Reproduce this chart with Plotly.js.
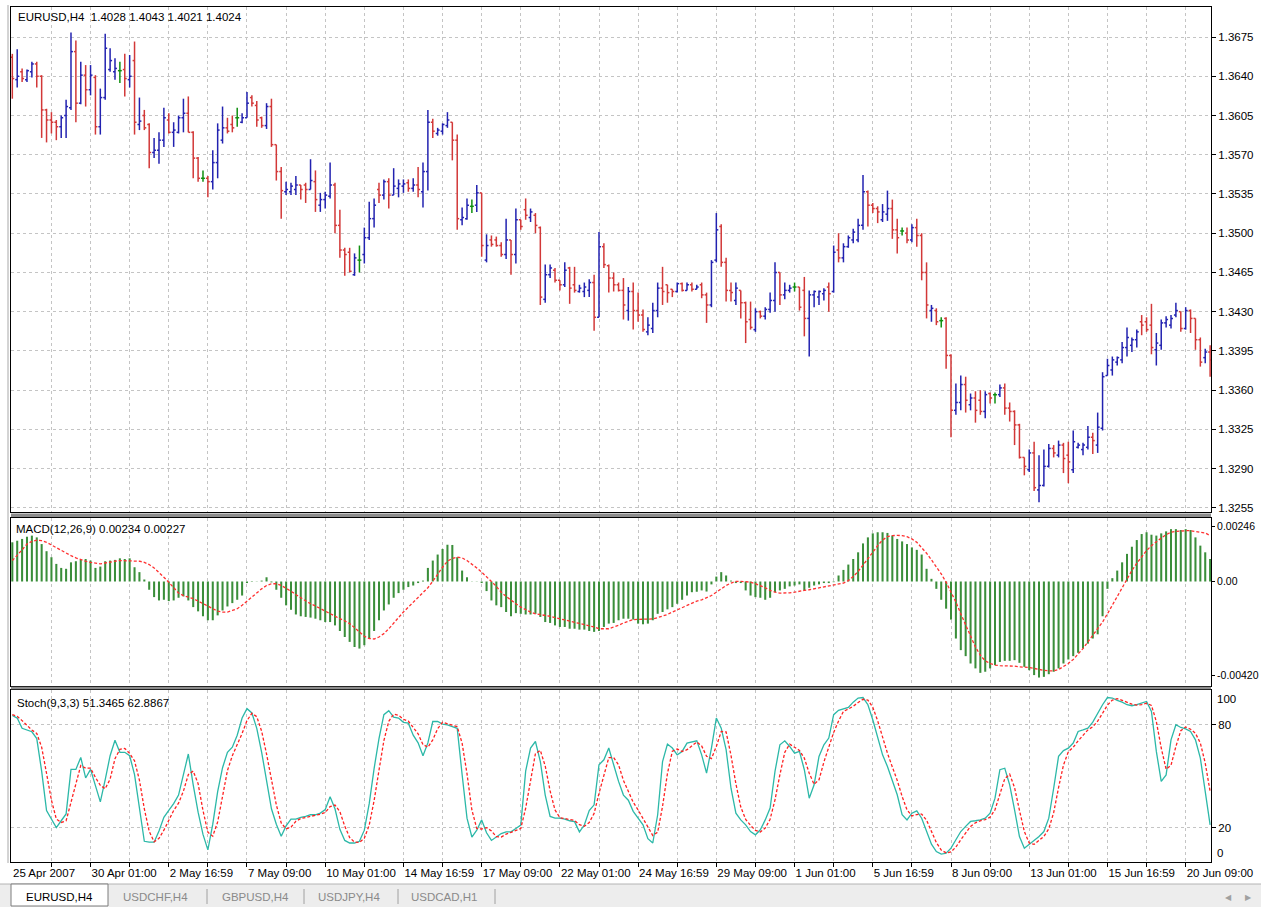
<!DOCTYPE html>
<html><head><meta charset="utf-8">
<script src="https://cdn.plot.ly/plotly-3.0.1.min.js"></script>
<style>html,body{margin:0;padding:0;background:#fff;overflow:hidden}#chart{width:1261px;height:907px}</style>
</head><body><div id="chart"></div>
<script>
// ---------------- DATA ----------------
const timeLabels = ["25 Apr 2007","30 Apr 01:00","2 May 16:59","7 May 09:00","10 May 01:00","14 May 16:59","17 May 09:00","22 May 01:00","24 May 16:59","29 May 09:00","1 Jun 01:00","5 Jun 16:59","8 Jun 09:00","13 Jun 01:00","15 Jun 16:59","20 Jun 09:00"];
const priceTicks = [1.3255,1.3290,1.3325,1.3360,1.3395,1.3430,1.3465,1.3500,1.3535,1.3570,1.3605,1.3640,1.3675];
const macdTicks = [0.00246,0,-0.0042];
const macdTickText = ["0.00246","0.00","-0.00420"];
const stochTicks = [80,20];

const openP = [
1.3657,1.3637,1.3644,1.3637,1.3644,1.3651,1.3640,1.3610,1.3601,1.3599,
1.3595,1.3605,1.3612,1.3662,1.3616,1.3641,1.3628,1.3639,1.3595,1.3621,
1.3646,1.3644,1.3645,1.3646,1.3637,1.3654,1.3597,1.3605,1.3597,1.3572,
1.3574,1.3583,1.3601,1.3590,1.3590,1.3603,1.3607,1.3590,1.3567,1.3549,
1.3549,1.3546,1.3563,1.3583,1.3594,1.3597,1.3603,1.3599,1.3603,1.3621,
1.3614,1.3603,1.3596,1.3613,1.3579,1.3555,1.3537,1.3537,1.3539,1.3543,
1.3543,1.3539,1.3546,1.3525,1.3530,1.3533,1.3543,1.3507,1.3485,1.3483,
1.3463,1.3476,1.3481,1.3496,1.3513,1.3539,1.3534,1.3546,1.3534,1.3540,
1.3542,1.3545,1.3540,1.3543,1.3537,1.3555,1.3599,1.3589,1.3591,1.3596,
1.3599,1.3583,1.3512,1.3513,1.3524,1.3525,1.3536,1.3476,1.3494,1.3494,
1.3489,1.3481,1.3494,1.3481,1.3512,1.3521,1.3514,1.3516,1.3505,1.3441,
1.3463,1.3467,1.3458,1.3454,1.3469,1.3454,1.3448,1.3448,1.3449,1.3456,
1.3425,1.3488,1.3471,1.3460,1.3454,1.3449,1.3431,1.3448,1.3431,1.3427,
1.3412,1.3415,1.3431,1.3451,1.3454,1.3450,1.3448,1.3455,1.3449,1.3454,
1.3450,1.3454,1.3445,1.3436,1.3476,1.3506,1.3474,1.3449,1.3440,1.3449,
1.3438,1.3423,1.3414,1.3430,1.3426,1.3432,1.3440,1.3465,1.3445,1.3449,
1.3452,1.3452,1.3449,1.3424,1.3445,1.3443,1.3446,1.3452,1.3448,1.3485,
1.3478,1.3488,1.3494,1.3494,1.3507,1.3537,1.3525,1.3522,1.3512,1.3517,
1.3522,1.3503,1.3502,1.3500,1.3494,1.3505,1.3498,1.3465,1.3431,1.3431,
1.3422,1.3424,1.3391,1.3342,1.3349,1.3365,1.3347,1.3353,1.3351,1.3341,
1.3357,1.3356,1.3356,1.3362,1.3344,1.3341,1.3329,1.3300,1.3289,1.3304,
1.3271,1.3275,1.3292,1.3308,1.3302,1.3311,1.3302,1.3289,1.3309,1.3307,
1.3309,1.3318,1.3311,1.3326,1.3373,1.3378,1.3385,1.3387,1.3398,1.3400,
1.3405,1.3421,1.3421,1.3418,1.3396,1.3400,1.3420,1.3418,1.3427,1.3430,
1.3415,1.3431,1.3424,1.3405,1.3389,1.3394];
const highP = [
1.3660,1.3664,1.3647,1.3646,1.3653,1.3653,1.3641,1.3611,1.3608,1.3601,
1.3605,1.3619,1.3679,1.3672,1.3653,1.3650,1.3650,1.3641,1.3629,1.3678,
1.3665,1.3656,1.3653,1.3660,1.3659,1.3671,1.3621,1.3610,1.3598,1.3585,
1.3590,1.3612,1.3607,1.3599,1.3605,1.3620,1.3622,1.3591,1.3568,1.3556,
1.3551,1.3574,1.3598,1.3613,1.3603,1.3605,1.3612,1.3607,1.3626,1.3623,
1.3618,1.3604,1.3616,1.3620,1.3579,1.3559,1.3546,1.3545,1.3551,1.3543,
1.3545,1.3566,1.3556,1.3536,1.3537,1.3563,1.3545,1.3521,1.3487,1.3487,
1.3482,1.3489,1.3505,1.3528,1.3531,1.3545,1.3548,1.3549,1.3558,1.3548,
1.3548,1.3548,1.3549,1.3559,1.3563,1.3610,1.3602,1.3594,1.3598,1.3608,
1.3599,1.3588,1.3523,1.3531,1.3530,1.3543,1.3536,1.3499,1.3498,1.3497,
1.3492,1.3513,1.3494,1.3522,1.3512,1.3531,1.3522,1.3518,1.3506,1.3472,
1.3472,1.3469,1.3458,1.3474,1.3470,1.3470,1.3454,1.3456,1.3459,1.3463,
1.3501,1.3491,1.3472,1.3465,1.3456,1.3460,1.3452,1.3456,1.3447,1.3432,
1.3425,1.3438,1.3456,1.3470,1.3454,1.3450,1.3456,1.3456,1.3456,1.3456,
1.3454,1.3456,1.3447,1.3476,1.3518,1.3508,1.3478,1.3456,1.3456,1.3449,
1.3439,1.3439,1.3433,1.3431,1.3434,1.3447,1.3474,1.3465,1.3456,1.3454,
1.3456,1.3452,1.3461,1.3449,1.3449,1.3449,1.3451,1.3456,1.3489,1.3500,
1.3491,1.3498,1.3504,1.3513,1.3552,1.3538,1.3527,1.3524,1.3526,1.3538,
1.3530,1.3513,1.3505,1.3505,1.3508,1.3513,1.3500,1.3474,1.3436,1.3433,
1.3425,1.3425,1.3392,1.3366,1.3373,1.3372,1.3357,1.3359,1.3360,1.3359,
1.3358,1.3358,1.3365,1.3366,1.3349,1.3342,1.3330,1.3300,1.3307,1.3314,
1.3302,1.3307,1.3312,1.3311,1.3315,1.3313,1.3314,1.3324,1.3313,1.3313,
1.3328,1.3322,1.3340,1.3376,1.3388,1.3390,1.3390,1.3403,1.3416,1.3407,
1.3414,1.3427,1.3425,1.3437,1.3411,1.3423,1.3426,1.3427,1.3438,1.3430,
1.3434,1.3432,1.3424,1.3407,1.3397,1.3400];
const lowP = [
1.3620,1.3630,1.3635,1.3635,1.3639,1.3630,1.3585,1.3581,1.3589,1.3583,
1.3585,1.3585,1.3610,1.3599,1.3615,1.3613,1.3623,1.3588,1.3588,1.3619,
1.3644,1.3637,1.3634,1.3622,1.3630,1.3588,1.3592,1.3592,1.3558,1.3567,
1.3562,1.3577,1.3589,1.3577,1.3589,1.3590,1.3590,1.3549,1.3546,1.3546,
1.3532,1.3539,1.3549,1.3580,1.3589,1.3590,1.3595,1.3598,1.3603,1.3613,
1.3595,1.3594,1.3593,1.3577,1.3547,1.3513,1.3534,1.3534,1.3534,1.3530,
1.3527,1.3539,1.3519,1.3519,1.3522,1.3531,1.3500,1.3478,1.3462,1.3465,
1.3462,1.3465,1.3473,1.3494,1.3505,1.3527,1.3530,1.3522,1.3534,1.3532,
1.3536,1.3537,1.3537,1.3532,1.3523,1.3538,1.3585,1.3587,1.3588,1.3594,
1.3565,1.3503,1.3507,1.3512,1.3518,1.3519,1.3479,1.3474,1.3488,1.3488,
1.3479,1.3477,1.3463,1.3473,1.3503,1.3512,1.3510,1.3500,1.3436,1.3438,
1.3460,1.3456,1.3449,1.3452,1.3437,1.3447,1.3447,1.3443,1.3443,1.3413,
1.3425,1.3469,1.3447,1.3448,1.3448,1.3423,1.3422,1.3414,1.3421,1.3412,
1.3409,1.3411,1.3425,1.3436,1.3438,1.3443,1.3447,1.3448,1.3449,1.3448,
1.3450,1.3442,1.3420,1.3434,1.3474,1.3470,1.3439,1.3439,1.3436,1.3424,
1.3402,1.3414,1.3412,1.3424,1.3423,1.3429,1.3430,1.3436,1.3441,1.3447,
1.3448,1.3431,1.3408,1.3390,1.3434,1.3436,1.3440,1.3430,1.3447,1.3474,
1.3474,1.3487,1.3491,1.3492,1.3503,1.3506,1.3518,1.3509,1.3510,1.3511,
1.3495,1.3482,1.3498,1.3491,1.3492,1.3488,1.3458,1.3424,1.3421,1.3418,
1.3416,1.3379,1.3318,1.3338,1.3342,1.3340,1.3342,1.3331,1.3338,1.3335,
1.3348,1.3348,1.3354,1.3338,1.3332,1.3311,1.3299,1.3284,1.3287,1.3270,
1.3260,1.3274,1.3291,1.3300,1.3300,1.3286,1.3277,1.3286,1.3308,1.3302,
1.3307,1.3303,1.3304,1.3324,1.3373,1.3373,1.3382,1.3384,1.3390,1.3394,
1.3398,1.3409,1.3412,1.3392,1.3382,1.3396,1.3416,1.3415,1.3425,1.3412,
1.3414,1.3411,1.3396,1.3381,1.3384,1.3372];
const closeP = [
1.3638,1.3640,1.3638,1.3645,1.3651,1.3640,1.3610,1.3601,1.3599,1.3595,
1.3603,1.3613,1.3662,1.3616,1.3641,1.3628,1.3641,1.3595,1.3621,1.3665,
1.3654,1.3647,1.3645,1.3638,1.3640,1.3599,1.3600,1.3594,1.3572,1.3574,
1.3583,1.3603,1.3590,1.3592,1.3603,1.3607,1.3590,1.3567,1.3549,1.3549,
1.3546,1.3563,1.3592,1.3594,1.3591,1.3594,1.3603,1.3603,1.3616,1.3616,
1.3601,1.3596,1.3613,1.3579,1.3555,1.3538,1.3539,1.3542,1.3543,1.3539,
1.3539,1.3547,1.3530,1.3530,1.3534,1.3543,1.3507,1.3485,1.3481,1.3466,
1.3478,1.3476,1.3496,1.3513,1.3525,1.3534,1.3546,1.3534,1.3542,1.3544,
1.3544,1.3540,1.3543,1.3539,1.3555,1.3599,1.3591,1.3592,1.3597,1.3601,
1.3583,1.3513,1.3514,1.3525,1.3524,1.3536,1.3489,1.3489,1.3490,1.3489,
1.3481,1.3494,1.3481,1.3512,1.3506,1.3516,1.3519,1.3507,1.3443,1.3463,
1.3469,1.3458,1.3454,1.3467,1.3451,1.3449,1.3451,1.3452,1.3456,1.3425,
1.3488,1.3472,1.3460,1.3454,1.3449,1.3436,1.3448,1.3431,1.3427,1.3414,
1.3418,1.3431,1.3451,1.3448,1.3447,1.3448,1.3455,1.3449,1.3454,1.3450,
1.3452,1.3445,1.3436,1.3474,1.3503,1.3474,1.3449,1.3447,1.3451,1.3438,
1.3421,1.3416,1.3430,1.3426,1.3432,1.3440,1.3465,1.3445,1.3449,1.3451,
1.3452,1.3434,1.3424,1.3445,1.3448,1.3448,1.3449,1.3446,1.3483,1.3478,
1.3488,1.3496,1.3501,1.3507,1.3537,1.3525,1.3522,1.3519,1.3519,1.3522,
1.3503,1.3496,1.3502,1.3494,1.3505,1.3498,1.3465,1.3436,1.3433,1.3421,
1.3422,1.3391,1.3342,1.3349,1.3365,1.3351,1.3353,1.3342,1.3341,1.3356,
1.3353,1.3356,1.3362,1.3344,1.3341,1.3329,1.3300,1.3292,1.3304,1.3273,
1.3275,1.3292,1.3308,1.3304,1.3311,1.3299,1.3296,1.3314,1.3311,1.3311,
1.3318,1.3315,1.3327,1.3372,1.3382,1.3387,1.3389,1.3398,1.3407,1.3405,
1.3412,1.3418,1.3414,1.3398,1.3402,1.3420,1.3423,1.3424,1.3431,1.3415,
1.3431,1.3424,1.3405,1.3385,1.3394,1.3387];

const macdHist = [
0.00176,0.00183,0.00191,0.00201,0.00206,0.00198,0.00168,0.00136,0.00109,0.00079,
0.00061,0.00057,0.00086,0.00091,0.00097,0.00101,0.00094,0.00061,0.00067,0.00091,
0.00094,0.00097,0.00104,0.00101,0.00104,0.00064,0.00042,0.00009,-0.00037,-0.00070,
-0.00085,-0.00082,-0.00088,-0.00085,-0.00073,-0.00067,-0.00085,-0.00115,-0.00134,-0.00156,
-0.00174,-0.00174,-0.00152,-0.00130,-0.00112,-0.00097,-0.00082,-0.00063,-0.00007,0.00002,
0.00001,0.00004,0.00019,-0.00004,-0.00037,-0.00073,-0.00107,-0.00127,-0.00148,-0.00156,
-0.00159,-0.00162,-0.00167,-0.00174,-0.00182,-0.00182,-0.00197,-0.00222,-0.00249,-0.00271,
-0.00294,-0.00301,-0.00286,-0.00256,-0.00222,-0.00174,-0.00130,-0.00103,-0.00073,-0.00052,
-0.00037,-0.00025,-0.00018,-0.00007,0.00004,0.00061,0.00094,0.00121,0.00146,0.00165,
0.00164,0.00109,0.00049,0.00019,0.00001,0.00001,-0.00007,-0.00043,-0.00085,-0.00107,
-0.00115,-0.00137,-0.00156,-0.00142,-0.00145,-0.00148,-0.00148,-0.00145,-0.00159,-0.00182,
-0.00186,-0.00197,-0.00204,-0.00204,-0.00212,-0.00212,-0.00216,-0.00216,-0.00222,-0.00226,
-0.00222,-0.00204,-0.00189,-0.00186,-0.00174,-0.00167,-0.00167,-0.00171,-0.00189,-0.00192,
-0.00189,-0.00174,-0.00145,-0.00137,-0.00125,-0.00115,-0.00100,-0.00082,-0.00063,-0.00048,
-0.00046,-0.00040,-0.00045,-0.00013,0.00022,0.00042,0.00027,0.00004,-0.00007,-0.00007,
-0.00040,-0.00063,-0.00070,-0.00073,-0.00082,-0.00073,-0.00048,-0.00040,-0.00033,-0.00022,
-0.00018,-0.00013,-0.00040,-0.00028,-0.00018,-0.00013,-0.00007,-0.00007,-0.00003,0.00027,
0.00052,0.00076,0.00101,0.00131,0.00171,0.00198,0.00216,0.00221,0.00221,0.00218,
0.00206,0.00191,0.00180,0.00168,0.00153,0.00142,0.00121,0.00057,0.00012,-0.00033,
-0.00082,-0.00122,-0.00171,-0.00256,-0.00308,-0.00335,-0.00368,-0.00390,-0.00410,-0.00405,
-0.00390,-0.00375,-0.00361,-0.00356,-0.00356,-0.00353,-0.00365,-0.00383,-0.00398,-0.00420,
-0.00431,-0.00428,-0.00416,-0.00405,-0.00390,-0.00368,-0.00350,-0.00335,-0.00320,-0.00301,
-0.00279,-0.00256,-0.00237,-0.00156,-0.00033,0.00015,0.00049,0.00086,0.00124,0.00156,
0.00186,0.00213,0.00221,0.00210,0.00206,0.00216,0.00225,0.00235,0.00235,0.00231,
0.00235,0.00231,0.00198,0.00161,0.00131,0.00101];
const macdSignal = [
0.00094,0.00116,0.00142,0.00168,0.00180,0.00186,0.00183,0.00176,0.00164,0.00150,
0.00139,0.00127,0.00116,0.00106,0.00097,0.00091,0.00086,0.00082,0.00079,0.00083,
0.00088,0.00091,0.00094,0.00094,0.00094,0.00094,0.00091,0.00086,0.00076,0.00061,
0.00042,0.00019,-0.00003,-0.00030,-0.00052,-0.00063,-0.00070,-0.00077,-0.00088,-0.00100,
-0.00112,-0.00122,-0.00133,-0.00137,-0.00137,-0.00130,-0.00122,-0.00107,-0.00088,-0.00067,
-0.00048,-0.00033,-0.00018,-0.00010,-0.00010,-0.00018,-0.00030,-0.00043,-0.00058,-0.00073,
-0.00088,-0.00100,-0.00110,-0.00122,-0.00133,-0.00145,-0.00156,-0.00167,-0.00177,-0.00189,
-0.00207,-0.00226,-0.00246,-0.00256,-0.00258,-0.00249,-0.00234,-0.00212,-0.00189,-0.00162,
-0.00137,-0.00115,-0.00092,-0.00073,-0.00052,-0.00028,0.00001,0.00034,0.00064,0.00091,
0.00104,0.00109,0.00106,0.00094,0.00079,0.00061,0.00042,0.00019,0.00000,-0.00022,
-0.00048,-0.00067,-0.00085,-0.00100,-0.00115,-0.00127,-0.00137,-0.00145,-0.00148,-0.00152,
-0.00156,-0.00162,-0.00167,-0.00171,-0.00177,-0.00182,-0.00186,-0.00192,-0.00197,-0.00204,
-0.00212,-0.00213,-0.00212,-0.00204,-0.00197,-0.00186,-0.00177,-0.00171,-0.00170,-0.00170,
-0.00170,-0.00168,-0.00162,-0.00156,-0.00148,-0.00137,-0.00127,-0.00115,-0.00107,-0.00097,
-0.00088,-0.00082,-0.00073,-0.00063,-0.00048,-0.00033,-0.00018,-0.00007,0.00000,0.00001,
0.00000,-0.00003,-0.00010,-0.00018,-0.00028,-0.00040,-0.00048,-0.00052,-0.00052,-0.00051,
-0.00048,-0.00043,-0.00040,-0.00037,-0.00033,-0.00028,-0.00025,-0.00022,-0.00018,-0.00013,
-0.00007,0.00004,0.00022,0.00045,0.00072,0.00101,0.00131,0.00161,0.00186,0.00201,
0.00206,0.00207,0.00206,0.00201,0.00191,0.00176,0.00153,0.00127,0.00097,0.00067,
0.00034,-0.00003,-0.00048,-0.00092,-0.00145,-0.00197,-0.00249,-0.00294,-0.00331,-0.00356,
-0.00368,-0.00375,-0.00378,-0.00378,-0.00380,-0.00380,-0.00383,-0.00383,-0.00386,-0.00390,
-0.00395,-0.00399,-0.00401,-0.00401,-0.00395,-0.00383,-0.00368,-0.00350,-0.00326,-0.00301,
-0.00271,-0.00241,-0.00212,-0.00182,-0.00145,-0.00107,-0.00067,-0.00025,0.00012,0.00049,
0.00082,0.00112,0.00139,0.00161,0.00180,0.00195,0.00210,0.00221,0.00225,0.00228,
0.00228,0.00228,0.00225,0.00224,0.00218,0.00206];

const stochMain = [
85.5,84,78,77,76,72,53,30,25,20,
24,28,54,54,61,49,54,45,35,48,
62,71,64,64,62,51,30,12,11.5,11.5,
18,26,30,34,39,51,63,45,29,16,
7,22,41,55,64,67,74,84,89.5,87,
78,64,47,31,22,15,21,25,25,26,
26.5,27.5,27.5,28.5,30.5,38,31,19,12.5,11,
11,12,18.5,34,54.5,72,86,88.3,84.5,84,
81.5,81,74,69.5,62,69.5,82,82,80.5,80,
79,78,51,25.5,14.5,18.5,24.5,17,12.5,14.5,
16.5,17.5,17.5,19.5,21.5,53,66.5,70.3,58.6,39,
26.5,25.5,25.5,25,24,23.5,17.5,21.5,30,33.3,
56.7,59.6,66.5,56.7,47,39,36,29.5,25.5,21.6,
13.5,11,27.5,58.6,68.8,66.5,62.5,64.5,69.4,70,
70.7,62.5,51.8,66.5,84,78.1,65.5,43,28.4,24.5,
21.6,17.7,15.8,18.7,24.5,31.4,52.8,68.4,70.7,67.4,
63.5,64.5,53.8,37.2,45,61.6,68.4,72.3,86,88.5,
89.3,90.2,93.3,95.7,96,91.8,83,72.3,62.5,55.7,
48,39.2,27.5,24.5,28.4,29.8,25.5,17.7,10.3,6,
4.5,5,8,12.9,17.7,20.7,23.6,24,24.5,25.5,
28.4,37.2,53.8,54.7,45,30.4,14.8,8,10.3,12.3,
14.8,17.7,25.5,43,61.6,65,66.4,69.4,76.2,77.1,
78.1,81.6,86.9,91.8,96,95.7,94.3,93.3,91.8,91.2,
91.8,92.7,93.7,87.9,64.5,47,50.8,71.3,80.1,78.5,
77.7,76.2,71.3,60.6,41.1,21.6];
const stochSignal = [
86,85,82.5,79.7,77,75,67,51.7,36,25,
23,24,35.3,45.3,56.3,54.7,54.7,49.3,44.7,42.7,
48.3,60.3,65.7,66.3,63.3,59,47.7,31,17.8,11.7,
13.7,18.5,24.7,30,34.3,41.3,51,53,45.7,30,
17.3,15,23.3,39.3,53.3,62,68.3,75,82.5,86.8,
84.8,76.3,63,47.3,33.3,22.7,19.3,20.3,23.7,25.3,
25.8,26.7,27.2,27.8,28.8,32.3,33.2,29.3,20.8,14.2,
11.5,11.3,13.8,21.5,35.7,53.5,70.8,82.1,86.3,85.6,
83.3,82.2,78.8,74.8,68.5,67,71.2,77.8,81.5,80.8,
79.8,79,69.3,51.5,30.3,19.5,19.2,20,18,14.7,
14.5,16.2,17.2,18.2,19.5,31.3,47,63.3,65.1,56,
41.4,30.3,25.8,25.3,24.8,24.2,21.7,20.8,23,28.3,
40,49.9,60.9,60.9,56.7,47.6,40.7,34.8,30.3,25.5,
20.2,15.4,17.3,32.4,51.6,64.6,65.9,64.5,65.5,68,
70,67.7,61.7,60.3,67.4,76.2,75.9,62.2,45.6,32,
24.8,21.3,18.4,17.4,19.7,24.9,36.2,50.9,64,68.8,
67.2,65.1,60.6,51.8,45.3,47.9,58.3,67.4,75.6,82.3,
87.9,89.3,90.9,93.1,95,94.5,90.3,82.4,72.6,63.5,
55.4,47.6,38.2,30.4,26.8,27.6,27.9,24.3,17.8,11.3,
6.9,5.2,5.8,8.6,12.9,17.1,20.7,22.8,24,24.7,
26.1,30.4,39.8,48.6,51.2,43.4,30.1,17.7,11,10.2,
12.5,14.9,19.3,28.7,43.4,56.5,64.3,66.9,70.7,74.2,
77.1,78.9,82.2,86.8,91.6,94.5,95.3,94.4,93.1,92.1,
91.6,91.9,92.7,91.4,82,66.5,54.1,56.4,67.4,76.6,
78.8,77.5,75.1,69.4,57.7,41.1];

const headerPrice = "EURUSD,H4  1.4028 1.4043 1.4021 1.4024";
const headerMacd = "MACD(12,26,9) 0.00234 0.00227";
const headerStoch = "Stoch(9,3,3) 51.3465 62.8867";
const tabNames = ["EURUSD,H4","USDCHF,H4","GBPUSD,H4","USDJPY,H4","USDCAD,H1"];

// ---------------- LAYOUT HELPERS ----------------
const W = 1261, H = 907;
const PL = 11, PR = 1211, PT = 7, PB = 862;
const px = v => (v - PL) / (PR - PL);
const py = v => (PB - v) / (PB - PT);
const n = closeP.length;
const idx = Array.from({length: n}, (_, i) => i);
const XR = [-0.27, 245.18];
const FONT = {family: 'Liberation Sans, Arial, sans-serif', size: 11.5, color: '#000'};
const FONT_S = {family: 'Liberation Sans, Arial, sans-serif', size: 10.5, color: '#000'};

// OHLC bars as line segments through the library's scales
function barSegments(test) {
  const xs = [], ys = [], t = 0.4;
  for (let i = 0; i < n; i++) {
    if (!test(openP[i], closeP[i])) continue;
    xs.push(i, i, null, i - t, i, null, i, i + t, null);
    ys.push(lowP[i], highP[i], null, openP[i], openP[i], null, closeP[i], closeP[i], null);
  }
  return {xs, ys};
}
const bull = barSegments((o, c) => c > o);
const bear = barSegments((o, c) => c < o);
const doji = barSegments((o, c) => c === o);

const traces = [
  {type: 'scatter', mode: 'lines', x: bull.xs, y: bull.ys, xaxis: 'x', yaxis: 'y',
   line: {color: '#2222b0', width: 1.5}, hoverinfo: 'skip', connectgaps: false},
  {type: 'scatter', mode: 'lines', x: bear.xs, y: bear.ys, xaxis: 'x', yaxis: 'y',
   line: {color: '#d23838', width: 1.5}, hoverinfo: 'skip', connectgaps: false},
  {type: 'scatter', mode: 'lines', x: doji.xs, y: doji.ys, xaxis: 'x', yaxis: 'y',
   line: {color: '#109010', width: 1.5}, hoverinfo: 'skip', connectgaps: false},
  {type: 'bar', x: idx, y: macdHist, xaxis: 'x2', yaxis: 'y2', width: 0.42,
   marker: {color: '#3a8e3a', line: {width: 0}}, hoverinfo: 'skip'},
  {type: 'scatter', mode: 'lines', x: idx, y: macdSignal, xaxis: 'x2', yaxis: 'y2',
   line: {color: '#ff3030', width: 1.3, dash: '3px,2px'}, hoverinfo: 'skip'},
  {type: 'scatter', mode: 'lines', x: idx, y: stochMain, xaxis: 'x3', yaxis: 'y3',
   line: {color: '#2cb8a8', width: 1.3}, hoverinfo: 'skip'},
  {type: 'scatter', mode: 'lines', x: idx, y: stochSignal, xaxis: 'x3', yaxis: 'y3',
   line: {color: '#ff2020', width: 1.3, dash: '3px,2px'}, hoverinfo: 'skip'}
];

const gridVals = [];
for (let v = 8; v <= 240; v += 8) gridVals.push(v);
const gridText = gridVals.map(v => (v % 16 === 0 ? timeLabels[v / 16] : ''));
const grid = {showgrid: true, gridcolor: '#c4c4c4', griddash: '3px,3px', gridwidth: 1};
const frame = {showline: true, mirror: true, linecolor: '#000', linewidth: 1, zeroline: false, fixedrange: true};

const layout = {
  width: W, height: H,
  margin: {l: PL, r: W - PR, t: PT, b: H - PB, pad: 0},
  paper_bgcolor: '#fff', plot_bgcolor: '#fff',
  showlegend: false, hovermode: false, font: FONT,
  xaxis: Object.assign({domain: [0, 1], anchor: 'y', range: XR, tickvals: gridVals,
    showticklabels: false, ticks: ''}, grid, frame),
  xaxis2: Object.assign({domain: [0, 1], anchor: 'y2', range: XR, matches: 'x', tickvals: gridVals,
    showticklabels: false, ticks: ''}, grid, frame),
  xaxis3: Object.assign({domain: [0, 1], anchor: 'y3', range: XR, matches: 'x', tickvals: gridVals,
    ticktext: gridText, ticks: 'outside', ticklen: 4, tickcolor: '#000', tickangle: 0,
    ticklabelposition: 'outside right', tickfont: FONT}, grid, frame),
  yaxis: Object.assign({domain: [py(512), 1], anchor: 'x', side: 'right', range: [1.32513, 1.37018],
    tickvals: priceTicks, ticktext: priceTicks.map(v => v.toFixed(4)), ticks: 'outside', ticklen: 4,
    tickcolor: '#000', tickfont: FONT}, grid, frame),
  yaxis2: Object.assign({domain: [py(686), py(518)], anchor: 'x2', side: 'right', range: [-0.00469, 0.00285],
    tickvals: macdTicks, ticktext: macdTickText, ticks: 'outside', ticklen: 3, tickcolor: '#000',
    tickfont: FONT_S, showgrid: false}, frame),
  yaxis3: Object.assign({domain: [0, py(690)], anchor: 'x3', side: 'right', range: [-0.1, 100.4],
    tickvals: stochTicks, ticktext: stochTicks.map(String), ticks: 'outside', ticklen: 4, tickcolor: '#000',
    tickfont: FONT}, grid, frame),
  shapes: [
    {type: 'rect', xref: 'paper', yref: 'paper', x0: 0, x1: 1, y0: py(517), y1: py(513.5),
     fillcolor: '#8c8c8c', line: {width: 0}, layer: 'above'},
    {type: 'rect', xref: 'paper', yref: 'paper', x0: 0, x1: 1, y0: py(689.3), y1: py(686.7),
     fillcolor: '#8c8c8c', line: {width: 0}, layer: 'above'},
    {type: 'line', xref: 'paper', yref: 'paper', x0: px(8), x1: px(8), y0: py(5), y1: py(863),
     line: {color: '#a8a8a8', width: 1}},
    {type: 'rect', xref: 'paper', yref: 'paper', x0: px(0), x1: px(1261), y0: py(907), y1: py(884),
     fillcolor: '#ededed', line: {width: 0}},
    {type: 'line', xref: 'paper', yref: 'paper', x0: px(0), x1: px(1261), y0: py(884), y1: py(884),
     line: {color: '#b4b4b4', width: 1}},
    {type: 'rect', xref: 'paper', yref: 'paper', x0: px(11), x1: px(108), y0: py(906), y1: py(884),
     fillcolor: '#ffffff', line: {color: '#7c7c7c', width: 1}},
    ...[207, 304, 398, 495].map(x => ({type: 'line', xref: 'paper', yref: 'paper', x0: px(x), x1: px(x),
      y0: py(889), y1: py(904), line: {color: '#a0a0a0', width: 1}}))
  ],
  annotations: [
    {text: headerPrice, xref: 'paper', yref: 'paper', x: px(16), y: py(17), xanchor: 'left', yanchor: 'middle', showarrow: false, font: FONT},
    {text: headerMacd, xref: 'paper', yref: 'paper', x: px(14), y: py(529), xanchor: 'left', yanchor: 'middle', showarrow: false, font: FONT},
    {text: headerStoch, xref: 'paper', yref: 'paper', x: px(15), y: py(703), xanchor: 'left', yanchor: 'middle', showarrow: false, font: FONT},
    {text: timeLabels[0], xref: 'x3', yref: 'paper', x: 0, y: py(873), xanchor: 'left', yanchor: 'middle', showarrow: false, font: FONT, xshift: -1},
    {text: '100', xref: 'paper', yref: 'y3', x: px(1215), y: 100, yshift: -8, xanchor: 'left', yanchor: 'middle', showarrow: false, font: FONT},
    {text: '0', xref: 'paper', yref: 'y3', x: px(1215), y: 0, yshift: 9, xanchor: 'left', yanchor: 'middle', showarrow: false, font: FONT},
    {text: tabNames[0], xref: 'paper', yref: 'paper', x: px(59), y: py(897), xanchor: 'center', yanchor: 'middle', showarrow: false, font: FONT},
    ...[[121, 1], [220, 2], [316, 3], [409, 4]].map(([x, k]) => ({text: tabNames[k], xref: 'paper', yref: 'paper',
      x: px(x), y: py(897), xanchor: 'left', yanchor: 'middle', showarrow: false,
      font: {family: FONT.family, size: 11.5, color: '#8a8a8a'}})),
    {text: '◀', xref: 'paper', yref: 'paper', x: px(1229), y: py(897), xanchor: 'center', yanchor: 'middle', showarrow: false, font: {family: 'DejaVu Sans', size: 8, color: '#a0a0a0'}},
    {text: '▶', xref: 'paper', yref: 'paper', x: px(1248), y: py(897), xanchor: 'center', yanchor: 'middle', showarrow: false, font: {family: 'DejaVu Sans', size: 8, color: '#a0a0a0'}}
  ]
};

Plotly.newPlot('chart', traces, layout, {staticPlot: true, displayModeBar: false});
</script>
</body></html>
